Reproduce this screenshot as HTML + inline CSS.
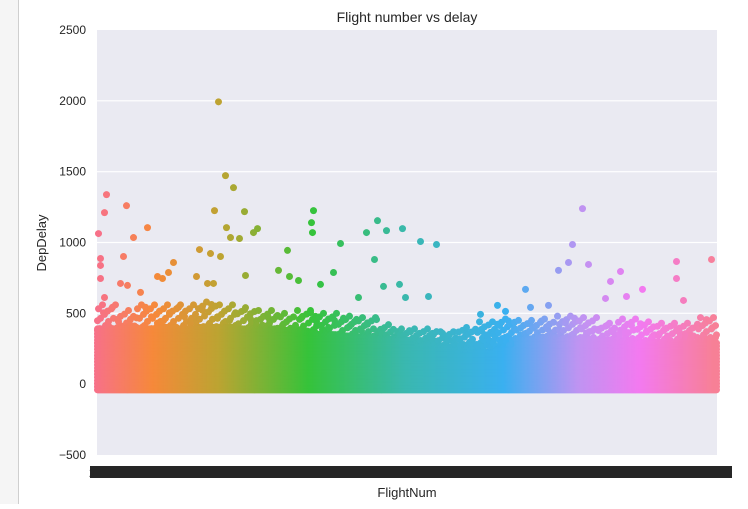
<!DOCTYPE html>
<html><head><meta charset="utf-8"><style>
body{margin:0;background:#fff;font-family:"Liberation Sans",Arial,sans-serif;}
svg text{font-family:"Liberation Sans",Arial,sans-serif;fill:#262626;}
</style></head><body>
<svg id="chart" width="748" height="504" viewBox="0 0 748 504" xmlns="http://www.w3.org/2000/svg">
<rect x="0" y="0" width="18" height="504" fill="#f5f5f5"/>
<rect x="18" y="0" width="1" height="504" fill="#cfcfcf"/>
<rect x="97" y="30" width="620" height="425" fill="#eaeaf2"/>
<g id="grid"></g>
<g id="dots"></g>
<g id="yticks"></g>
<rect x="90" y="466" width="642" height="12" fill="#262626"/>
<text x="89" y="477" font-size="12">2</text>
<text x="407" y="22" font-size="14" text-anchor="middle">Flight number vs delay</text>
<text x="407" y="497" font-size="13" text-anchor="middle">FlightNum</text>
<text x="0" y="0" font-size="13" text-anchor="middle" transform="translate(46,243) rotate(-90)">DepDelay</text>
</svg>
<script>
const yTicks=[2500,2000,1500,1000,500,0,-500];
const nCategories=620;
const bandTop=[390,400,390,400,390,400,400,390,390,380,370,350,340,330,320,310,280,260,240,230,260,320,330,320,310,310,300,290,290,290,310];
const fringe=[560,520,560,560,560,580,560,540,520,500,520,500,480,470,420,390,390,370,400,440,460,450,460,480,470,430,460,440,430,430,470];
const fringePattern=[0.62,0.95,0.7,0.83,0.58,1,0.66,0.88,0.74,0.6,0.92,0.79,0.68];
const fringePattern2=[0.8,0.55,0.9,0.65,0.72,0.97,0.6,0.85,0.7,0.77,0.52];
const outlierCat=[1,3,3,7,9,3,7,29,26,36,50,23,30,43,60,65,76,71,121,128,136,117,129,102,113,123,133,142,147,156,160,148,99,110,116,190,181,192,201,216,214,215,223,236,243,261,259,269,280,289,277,286,305,323,339,302,308,331,428,461,471,475,485,491,508,513,523,529,545,579,579,586,614,408,400,433,451,383];
const outlierVal=[1063,887,838,1211,1338,746,612,1260,901,1035,1105,711,697,648,760,746,859,788,1993,1472,1387,1225,1105,950,922,901,1035,1028,1218,1070,1098,767,760,711,711,944,803,760,732,1225,1140,1070,704,788,993,612,457,1070,1154,1084,880,690,1098,1007,986,704,612,619,669,803,859,986,1239,845,605,725,795,619,669,866,746,591,880,514,556,542,556,493];
const stops=[[0,[247,113,137]],[0.094,[246,137,58]],[0.2,[188,164,50]],[0.345,[54,195,58]],[0.5,[58,184,175]],[0.66,[58,176,240]],[0.78,[190,148,242]],[0.88,[243,122,240]],[1,[247,128,150]]];
const X0=97,W=620,Y0=30,H=425,ymin=-500,ymax=2500;
function xs(i){return X0+(i+0.5)*W/nCategories;}
function ys(v){return Y0+(ymax-v)/(ymax-ymin)*H;}
function col(i){const f=i/(nCategories-1);for(let k=1;k<stops.length;k++){if(f<=stops[k][0]){const a=stops[k-1],b=stops[k];const t=(f-a[0])/(b[0]-a[0]);const c=a[1].map((v,j)=>Math.round(v+(b[1][j]-v)*t));return `rgb(${c[0]},${c[1]},${c[2]})`;}}return 'rgb(247,128,150)';}
const NS="http://www.w3.org/2000/svg";
const grid=document.getElementById('grid'),yt=document.getElementById('yticks'),dots=document.getElementById('dots');
yTicks.forEach(v=>{
 if(v<ymax&&v>ymin){const l=document.createElementNS(NS,'line');l.setAttribute('x1',X0);l.setAttribute('x2',X0+W);l.setAttribute('y1',ys(v));l.setAttribute('y2',ys(v));l.setAttribute('stroke','#fff');l.setAttribute('stroke-width','1.2');
 
 
 grid.appendChild(l);}
 const t=document.createElementNS(NS,'text');t.setAttribute('x',86);t.setAttribute('y',ys(v)+4);t.setAttribute('text-anchor','end');t.setAttribute('font-size','12');t.textContent=v===-500?'−500':v;
 
 
 yt.appendChild(t);
});
function dot(i,v,name){const c=document.createElementNS(NS,'circle');c.setAttribute('cx',xs(i));c.setAttribute('cy',ys(v));c.setAttribute('r',3.5);c.setAttribute('fill',col(i));
 
 
 dots.appendChild(c);}
const nb=bandTop.length;
for(let i=0;i<nCategories;i++){
 const b=Math.min(nb-1,Math.floor(i/nCategories*nb));
 for(let v=-40;v<=bandTop[b];v+=22)dot(i,v,'point');
 dot(i,Math.max(bandTop[b],fringe[b]*fringePattern[i%fringePattern.length]),'point');
 if(i%3===0)dot(i,Math.max(bandTop[b],fringe[b]*fringePattern2[(i/3)%fringePattern2.length]),'point');
}
for(let k=0;k<outlierCat.length;k++)dot(outlierCat[k],outlierVal[k],'outlier-point');
</script>
</body></html>
